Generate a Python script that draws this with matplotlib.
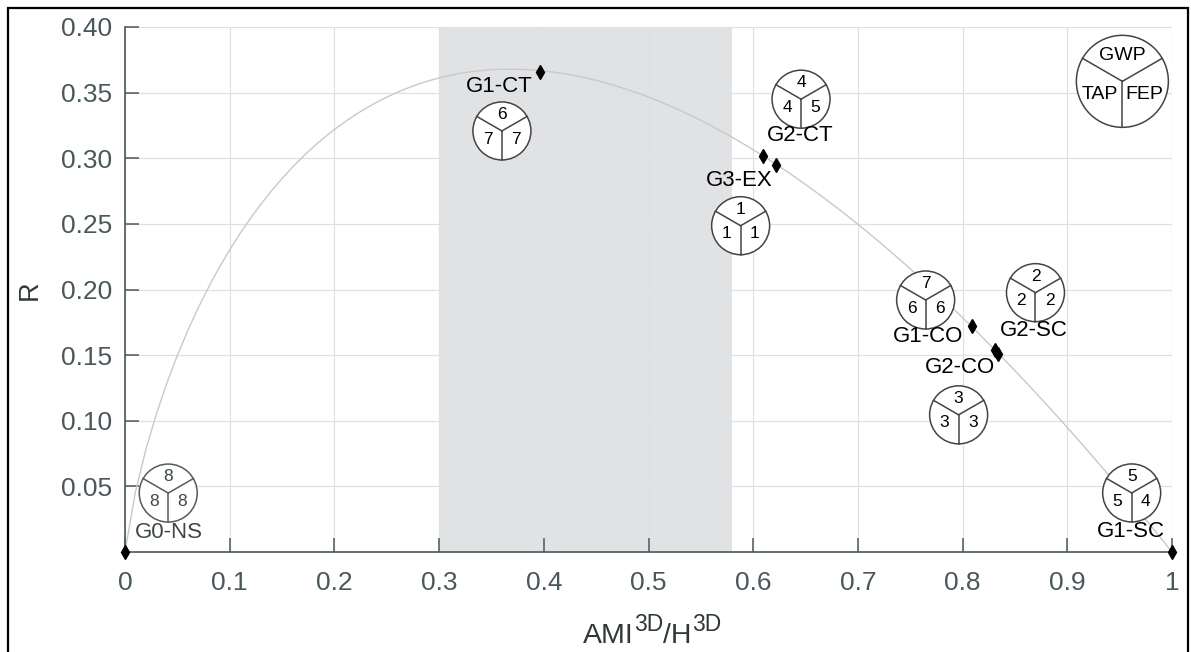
import numpy as np
import matplotlib
matplotlib.use('Agg')
import matplotlib.pyplot as plt
from matplotlib.patches import Circle, Rectangle
from matplotlib.lines import Line2D
from matplotlib.transforms import ScaledTranslation

plt.rcParams['font.family'] = ['Liberation Sans', 'DejaVu Sans']

# ---------------- data ----------------
groups = ['G0-NS', 'G1-CT', 'G3-EX', 'G2-CT', 'G1-CO', 'G2-SC', 'G2-CO', 'G1-SC']
ami_ratio = [0.0, 0.396, 0.609, 0.622, 0.809, 0.831, 0.834, 1.0]
robustness = [0.0, 0.366, 0.302, 0.295, 0.172, 0.154, 0.151, 0.0]
gwp_rank = [8, 6, 1, 4, 7, 2, 3, 5]
tap_rank = [8, 7, 1, 4, 6, 2, 3, 5]
fep_rank = [8, 7, 1, 5, 6, 2, 3, 4]
legend_labels = ['GWP', 'TAP', 'FEP']
window_of_vitality = (0.30, 0.58)
xticks = [0, 0.1, 0.2, 0.3, 0.4, 0.5, 0.6, 0.7, 0.8, 0.9, 1.0]
xtick_labels = ['0', '0.1', '0.2', '0.3', '0.4', '0.5', '0.6', '0.7', '0.8', '0.9', '1']
yticks = [0.05, 0.10, 0.15, 0.20, 0.25, 0.30, 0.35, 0.40]
ytick_labels = ['0.05', '0.10', '0.15', '0.20', '0.25', '0.30', '0.35', '0.40']

# ---------------- layout (label / glyph positions in data coords) ----------------
label_pos = {
    'G0-NS': (0.042, 0.0147), 'G1-CT': (0.3576, 0.355), 'G2-CT': (0.645, 0.3174),
    'G3-EX': (0.587, 0.2831), 'G1-CO': (0.767, 0.1644), 'G2-SC': (0.868, 0.169),
    'G2-CO': (0.7975, 0.1405), 'G1-SC': (0.9605, 0.0155),
}
glyph_pos = {
    'G0-NS': (0.0413, 0.0449), 'G1-CT': (0.360, 0.3208), 'G2-CT': (0.6457, 0.345),
    'G3-EX': (0.588, 0.2486), 'G1-CO': (0.7647, 0.192), 'G2-SC': (0.8696, 0.1976),
    'G2-CO': (0.7962, 0.1045), 'G1-SC': (0.9615, 0.045),
}
legend_glyph_pos = (0.9526, 0.3586)

W, H, DPI = 1191, 652, 100
fig = plt.figure(figsize=(W / DPI, H / DPI), dpi=DPI)
ax = fig.add_axes([125 / W, 1 - 552 / H, 1047 / W, 525 / H])

axis_col = '#4b585b'
grid_col = '#dde1e4'
label_col = '#30383a'

# theoretical robustness curve R = -a ln a
a = np.linspace(0, 1, 101)
safe_a = np.where(a > 0, a, 1.0)
curve = np.where(a > 0, -a * np.log(safe_a), 0.0)

ax.axvspan(*window_of_vitality, color='#e1e2e4', zorder=0.2, lw=0)
ax.plot(a, curve, color='#c9c9c9', lw=1.0, zorder=1)
ax.plot(ami_ratio, robustness, 'd', color='black', ms=7, zorder=6, clip_on=False, lw=0)

ax.set_xlim(0, 1)
ax.set_ylim(0, 0.40)
ax.set_xticks(xticks)
ax.set_xticklabels(xtick_labels)
ax.set_yticks(yticks)
ax.set_yticklabels(ytick_labels)
ax.set_axisbelow(True)
ax.grid(True, color=grid_col, lw=0.9)
for s in ['top', 'right']:
    ax.spines[s].set_visible(False)
for s in ['left', 'bottom']:
    ax.spines[s].set_color(axis_col)
    ax.spines[s].set_linewidth(1.2)
ax.tick_params(axis='both', direction='in', length=10, width=1.1, color=axis_col,
               labelcolor=axis_col, labelsize=19)
ax.tick_params(axis='x', pad=14)
ax.tick_params(axis='y', pad=9)

# y label
fig.text(30 / W, 1 - 290 / H, 'R', ha='center', va='center', rotation=90,
         fontsize=19.5, color=label_col)

# x label built from pieces: AMI^3D / H^3D
pieces = [('AMI', 20.5, 0), ('3D', 16.5, 12), ('/H', 20.5, 0), ('3D', 16.5, 12)]
renderer = fig.canvas.get_renderer()
widths = []
for txt, fs, _ in pieces:
    t = fig.text(0, 0, txt, fontsize=fs)
    widths.append(t.get_window_extent(renderer).width)
    t.remove()
total = sum(widths)
xpix = 652 - total / 2
base = 643
for (txt, fs, rise), w in zip(pieces, widths):
    fig.text(xpix / W, 1 - (base - rise) / H, txt, fontsize=fs, ha='left',
             va='baseline', color=label_col)
    xpix += w


def glyph(x, y, r_px, vals, fs, col, txtcol):
    trans = fig.dpi_scale_trans + ScaledTranslation(x, y, ax.transData)
    r = r_px / DPI
    ax.add_patch(Circle((0, 0), r, transform=trans, fc='white', ec=col, lw=1.1,
                        zorder=7, clip_on=False))
    for ang in (30, 150, 270):
        t = np.deg2rad(ang)
        ax.add_line(Line2D([0, r * np.cos(t)], [0, r * np.sin(t)], transform=trans,
                           color=col, lw=1.1, zorder=8, clip_on=False))
    for v, ang in zip(vals, (90, 210, 330)):
        t = np.deg2rad(ang)
        d = 0.56 * r
        ax.text(d * np.cos(t), d * np.sin(t), str(v), transform=trans, ha='center',
                va='center', fontsize=fs, color=txtcol, zorder=9, clip_on=False)


for i, g in enumerate(groups):
    lc = '#3f4648' if g == 'G0-NS' else 'black'
    ax.text(*label_pos[g], g, ha='center', va='center', fontsize=16, color=lc, zorder=9)
    gc = '#555b5d' if g == 'G0-NS' else '#444444'
    glyph(*glyph_pos[g], 29, [gwp_rank[i], tap_rank[i], fep_rank[i]], 12.5, gc, lc)

glyph(*legend_glyph_pos, 46, legend_labels, 14, '#444444', 'black')

ax.set_xlim(0, 1)
ax.set_ylim(0, 0.40)

fig.add_artist(Rectangle((8 / W, -0.1), 1180 / W, 1 - 8 / H + 0.1, transform=fig.transFigure,
                         fill=False, ec='black', lw=1.6))

fig.savefig('out.png', dpi=DPI, facecolor='white')
